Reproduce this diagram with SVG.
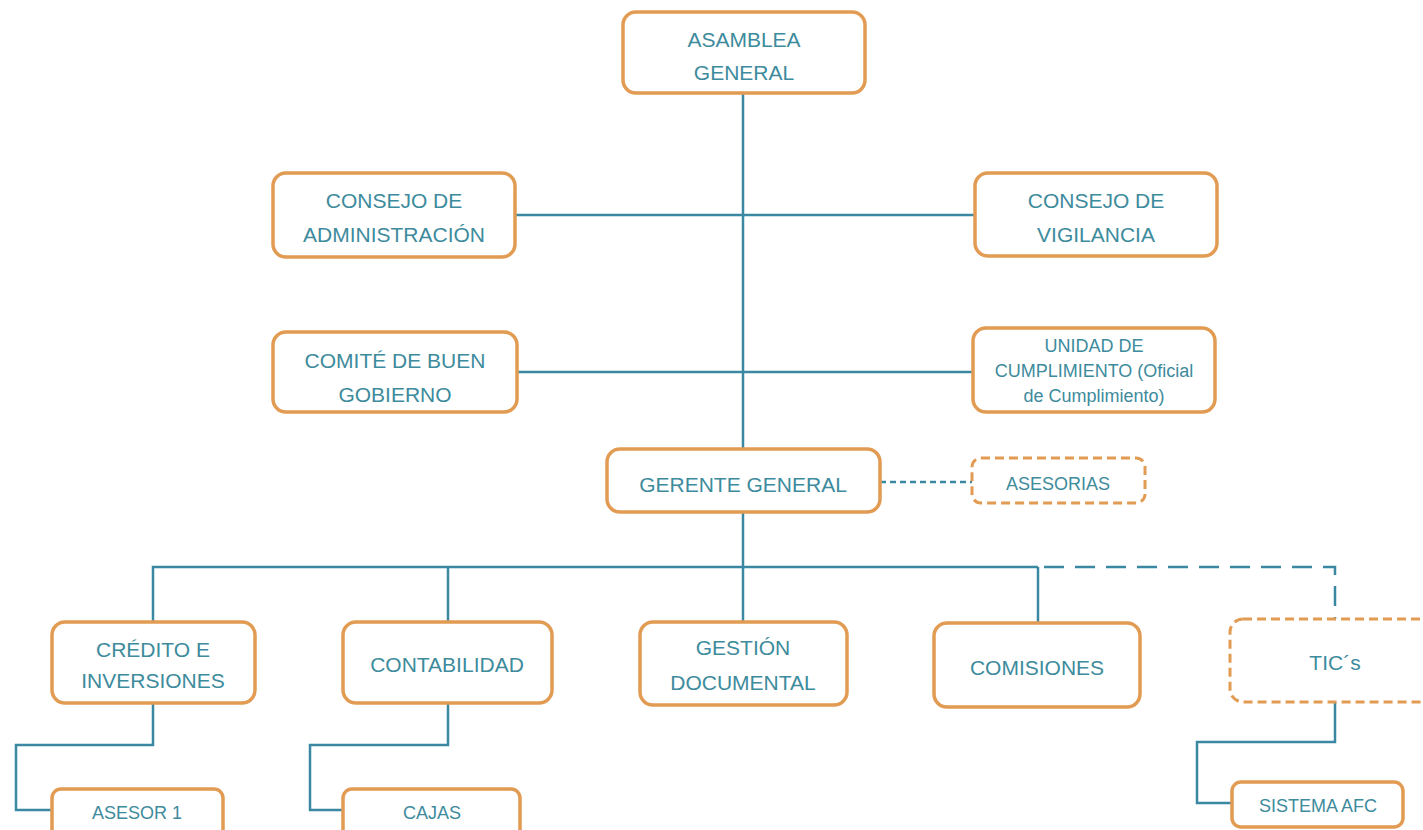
<svg xmlns="http://www.w3.org/2000/svg" width="1423" height="830" viewBox="0 0 1423 830">
<style>
.box{fill:#fff;stroke:#E29B52;stroke-width:3.5}
.dbox{fill:#fff;stroke:#E29B52;stroke-width:3;stroke-dasharray:9 5}
.sbox{fill:#fff;stroke:#E29B52;stroke-width:3.5}
.ln{fill:none;stroke:#3A88A2;stroke-width:2.5}
.dl{fill:none;stroke:#3A88A2;stroke-width:2.5;stroke-dasharray:20 11}
.ds{fill:none;stroke:#3A88A2;stroke-width:2.5;stroke-dasharray:6 4}
text{font-family:"Liberation Sans",Arial,sans-serif;fill:#3D8B9C;text-anchor:middle}
.t21{font-size:21px}
.t18{font-size:18px}
</style>
<rect width="1423" height="830" fill="#fff"/>
<g id="connectors">
<path class="ln" d="M743 93V449"/>
<path class="ln" d="M515 215H975"/>
<path class="ln" d="M517 372H973"/>
<path class="ln" d="M743 512V622"/>
<path class="ln" d="M153 622V567H1038"/>
<path class="ln" d="M448 567V622"/>
<path class="ln" d="M1038 567V623"/>
<path class="dl" d="M1044 567H1335V619"/>
<path class="ds" d="M880 482H972"/>
<path class="ln" d="M153 703V745H16V810H52"/>
<path class="ln" d="M448 703V745H310V810H343"/>
<path class="ln" d="M1335 702V742H1197V803H1232"/>
</g>
<g id="asamblea"><rect class="box" x="623" y="12" width="242" height="81" rx="13"/><text class="t21" x="744" y="47">ASAMBLEA</text><text class="t21" x="744" y="80">GENERAL</text></g>
<g id="consejo-admin"><rect class="box" x="273" y="173" width="242" height="84" rx="13"/><text class="t21" x="394" y="208">CONSEJO DE</text><text class="t21" x="394" y="242">ADMINISTRACIÓN</text></g>
<g id="consejo-vig"><rect class="box" x="975" y="173" width="242" height="83" rx="13"/><text class="t21" x="1096" y="208">CONSEJO DE</text><text class="t21" x="1096" y="242">VIGILANCIA</text></g>
<g id="comite"><rect class="box" x="273" y="332" width="244" height="80" rx="13"/><text class="t21" x="395" y="368">COMITÉ DE BUEN</text><text class="t21" x="395" y="402">GOBIERNO</text></g>
<g id="unidad"><rect class="box" x="973" y="328" width="242" height="84" rx="13"/><text class="t18" x="1094" y="352">UNIDAD DE</text><text class="t18" x="1094" y="377">CUMPLIMIENTO (Oficial</text><text class="t18" x="1094" y="402">de Cumplimiento)</text></g>
<g id="gerente"><rect class="box" x="607" y="449" width="273" height="63" rx="13"/><text class="t21" x="743" y="492">GERENTE GENERAL</text></g>
<g id="asesorias"><rect class="dbox" x="972" y="458" width="173" height="45" rx="9"/><text class="t18" x="1058" y="490">ASESORIAS</text></g>
<g id="credito"><rect class="box" x="52" y="622" width="203" height="81" rx="13"/><text class="t21" x="153" y="657">CRÉDITO E</text><text class="t21" x="153" y="688">INVERSIONES</text></g>
<g id="contabilidad"><rect class="box" x="343" y="622" width="209" height="81" rx="13"/><text class="t21" x="447" y="672">CONTABILIDAD</text></g>
<g id="gestion"><rect class="box" x="640" y="622" width="207" height="83" rx="13"/><text class="t21" x="743" y="655">GESTIÓN</text><text class="t21" x="743" y="690">DOCUMENTAL</text></g>
<g id="comisiones"><rect class="box" x="934" y="623" width="206" height="84" rx="13"/><text class="t21" x="1037" y="675">COMISIONES</text></g>
<g id="tics"><rect class="dbox" x="1230" y="619" width="220" height="83" rx="13"/><text class="t21" x="1335" y="670">TIC´s</text></g>
<g id="asesor1"><rect class="sbox" x="52" y="789" width="171" height="50" rx="9"/><text class="t18" x="137" y="819">ASESOR 1</text></g>
<g id="cajas"><rect class="sbox" x="343" y="789" width="177" height="50" rx="9"/><text class="t18" x="432" y="819">CAJAS</text></g>
<g id="sistema"><rect class="sbox" x="1232" y="782" width="171" height="45" rx="9"/><text class="t18" x="1318" y="812">SISTEMA AFC</text></g>
</svg>
